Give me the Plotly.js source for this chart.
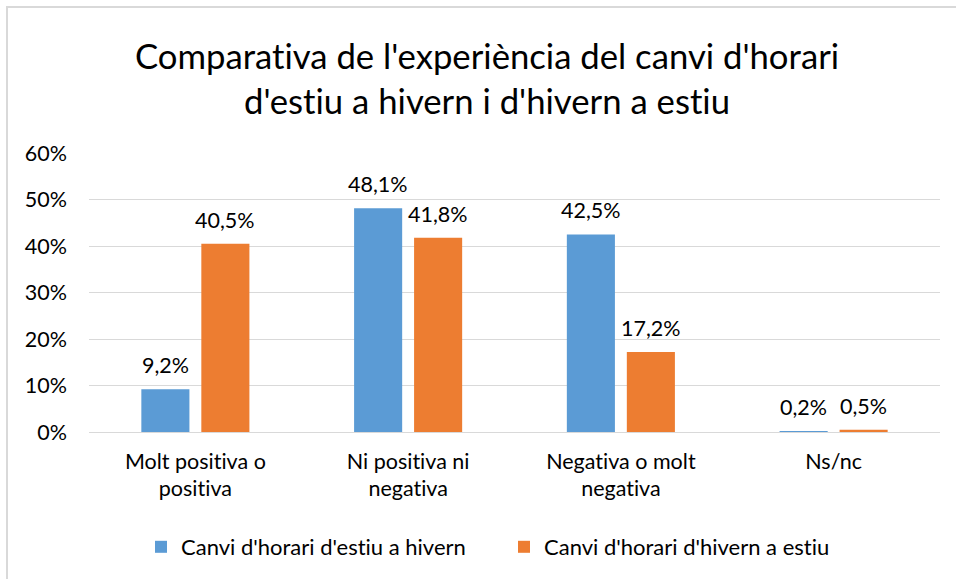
<!DOCTYPE html>
<html>
<head>
<meta charset="utf-8">
<script src="https://cdn.plot.ly/plotly-3.0.1.min.js"></script>
<style>
html,body{margin:0;padding:0;background:#fff;}
#wrap{position:relative;width:956px;height:579px;overflow:hidden;}
#frame{position:absolute;left:6px;top:6px;width:1000px;height:1000px;border:2px solid #D9D9D9;box-sizing:border-box;pointer-events:none;}
#chart{position:absolute;left:0;top:0;width:956px;height:579px;}
svg text{font-variant-ligatures:none;font-feature-settings:"liga" 0,"clig" 0;}
</style>
</head>
<body>
<div id="wrap"><div id="chart"></div><div id="frame"></div></div>
<script>
const categories = ["Molt positiva o<br>positiva", "Ni positiva ni<br>negativa", "Negativa o molt<br>negativa", "Ns/nc"];
const seriesNames = ["Canvi d'horari d'estiu a hivern", "Canvi d'horari d'hivern a estiu"];
const estiuHivern = [0.092, 0.481, 0.425, 0.002];
const hivernEstiu = [0.405, 0.418, 0.172, 0.005];
const colors = ["#5B9BD5", "#ED7D31"];

const FONT = "Lato, 'Open Sans', sans-serif";
const FS = 21.5;
const fmt = v => (v * 100).toFixed(1).replace('.', ',') + '%';

const offsets = [-0.254, 0.028];
const barWidth = 0.226;

const traces = [estiuHivern, hivernEstiu].map((vals, i) => ({
  type: 'bar',
  name: seriesNames[i],
  x: categories,
  y: vals,
  width: barWidth,
  offset: offsets[i],
  marker: {color: colors[i]},
  hoverinfo: 'skip'
}));

// data labels placed at each bar's value through the axes
const annotations = [];
[estiuHivern, hivernEstiu].forEach((vals, i) => {
  vals.forEach((v, j) => {
    annotations.push({
      x: j + offsets[i] + barWidth / 2,
      y: v,
      xref: 'x', yref: 'y',
      text: fmt(v),
      showarrow: false,
      xanchor: 'center', yanchor: 'bottom',
      yshift: 9,
      font: {family: FONT, size: FS, color: '#000'}
    });
  });
});

const layout = {
  width: 956, height: 579,
  margin: {l: 89, r: 16, t: 153, b: 147},
  paper_bgcolor: 'rgba(0,0,0,0)',
  plot_bgcolor: '#fff',
  barmode: 'overlay',
  font: {family: FONT, color: '#000', size: FS},
  title: {
    text: "Comparativa de l'experiència del canvi d'horari<br>d'estiu a hivern i d'hivern a estiu",
    font: {family: FONT, size: 34.7, color: '#000'},
    x: 487 / 956, xref: 'container', xanchor: 'center',
    y: 1 - 69 / 579, yref: 'container', yanchor: 'middle'
  },
  xaxis: {
    type: 'category',
    range: [-0.5, 3.5],
    showgrid: false,
    showline: false,
    ticks: '',
    tickfont: {family: FONT, size: FS, color: '#000'},
    ticklabelstandoff: 14,
    fixedrange: true
  },
  yaxis: {
    range: [0, 0.6],
    dtick: 0.1,
    tickformat: '.0%',
    showgrid: true,
    gridcolor: '#D9D9D9',
    gridwidth: 1,
    zeroline: true,
    zerolinecolor: '#D9D9D9',
    zerolinewidth: 1,
    showline: false,
    ticks: '',
    tickfont: {family: FONT, size: FS, color: '#000'},
    ticklabelstandoff: 21,
    fixedrange: true
  },
  annotations: annotations,
  showlegend: true,
  legend: {
    orientation: 'h',
    xref: 'container', yref: 'container',
    x: 504 / 956, xanchor: 'center',
    y: 1 - 547 / 579, yanchor: 'middle',
    font: {family: FONT, size: 22, color: '#000'},
    itemwidth: 20,
    entrywidth: 318,
    traceorder: 'normal'
  }
};

Plotly.newPlot('chart', traces, layout, {displayModeBar: false, staticPlot: true});
</script>
</body>
</html>
